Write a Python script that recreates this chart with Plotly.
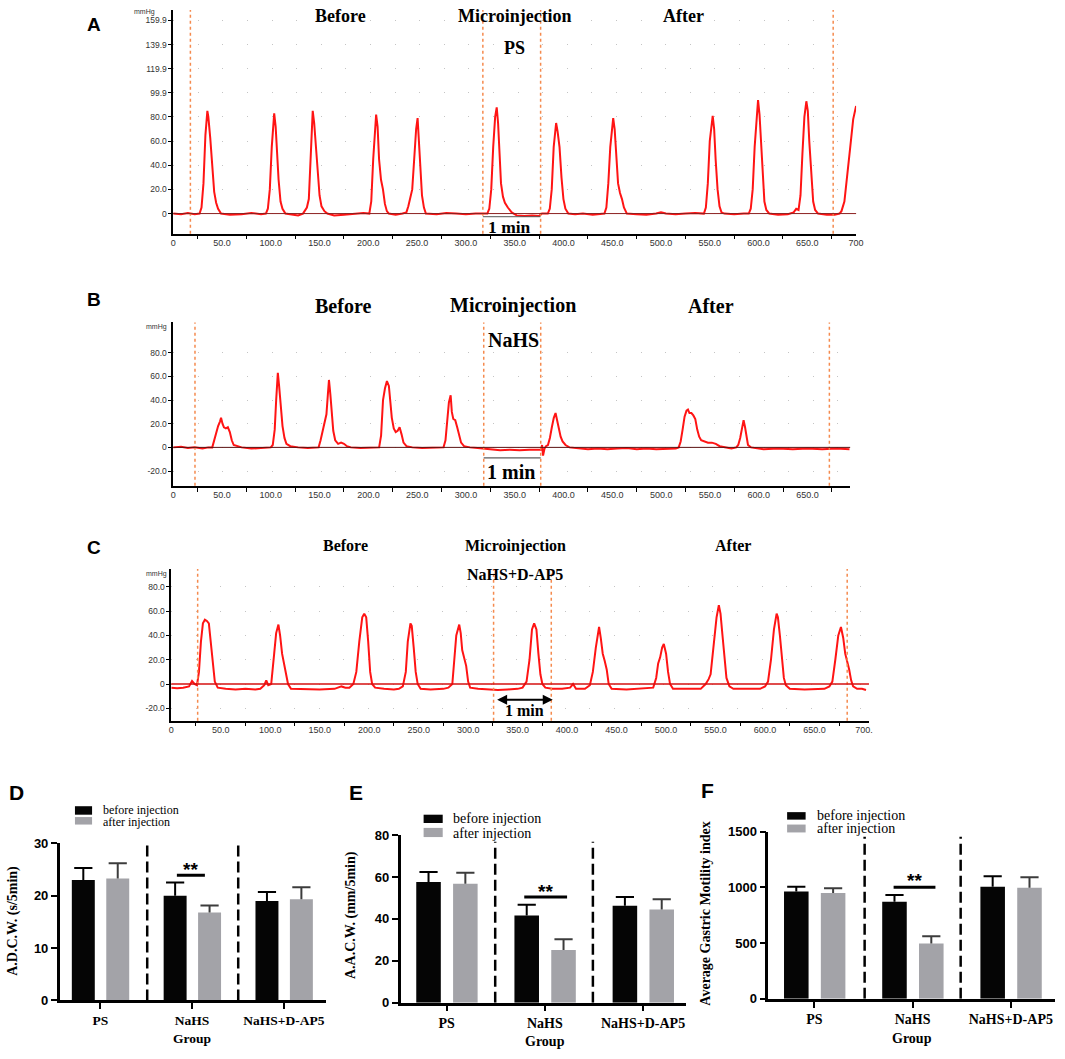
import plotly.graph_objects as go

W, H = 1065, 1059
def px(x): return x / W
def py(y): return 1 - y / H

SERIF = "Liberation Serif"
SANS = "Liberation Sans"

# ---------------- Data: manometry traces (time, mmHg) ----------------
a_trace = [(0,0),(8,-0.5),(15,0.5),(22,-0.5),
    (27,0),(29,5),(31,25),(33,65),(35,85),(36,80),(38,62),(40,40),(42,18),(44,9),(46,4),(49,0),
    (58,-1),(70,-0.5),(80,0.5),(90,-0.5),
    (95,0),(97,4),(99,20),(101,55),(103.5,83),(105,72),(106.5,50),(108,28),(110,10),(112,4),(115,0),
    (122,-1),(128,-1.5),(133,0),
    (135,3),(137,5),(139,12),(141,50),(143,85),(144.5,75),(146,60),(148,35),(150,15),(152,6),(155,2),(158,0),
    (165,-1.5),(175,-1),(185,0),(195,0.5),
    (201,0),(203,10),(205,45),(207,78),(208,82),(209.5,72),(211,45),(213,28),(215,20),(217,8),(219,2),(221,0),
    (228,-1),(235,0),
    (239,1),(241,6),(243,12),(245,20),(247,45),(249,70),(250.5,79),(252,60),(253.5,35),(255,15),(257,5),(259,0),
    (270,-0.5),(280,0.5),(290,0),(300,-0.5),(310,0),(318,0),
    (322,0),(324,4),(326,20),(328,55),(330,80),(331.6,88),(333,75),(334.5,50),(336,25),(338,14),(340,9),(343,5),(347,1),
    (352,-1.5),(360,-2),(368,-1.5),(375,-2),(378,0),
    (384,0),(386,4),(388,20),(390,55),(392.5,75),(394,68),(396,55),(398,30),(400,12),(402,4),(405,0),
    (412,-0.5),(420,0),(430,-1),(438,0),
    (442,0),(444,5),(446,25),(448,55),(451,79),(452.5,70),(454,48),(456,25),(458,17),(460,12),(462,5),(465,0),
    (475,-0.5),(485,-1),(495,0),(500,1),(505,0),(515,-0.5),(525,0),(535,0.5),
    (544,0),(546,5),(548,25),(550,60),(553,81),(554.5,70),(556,45),(558,20),(560,6),(562,1),(565,0),
    (575,-0.5),(585,0),
    (590,0),(592,4),(594,20),(596,55),(599.5,94),(601,82),(602.5,60),(604,30),(606,10),(608,3),(611,0),
    (620,-1),(630,-0.5),(636,1),(638.6,4),
    (641,3),(643,15),(645,50),(647,80),(649,93),(650.5,85),(652,60),(654,30),(656,10),(658,3),(661,0),
    (670,-1),(678,-1),(683,0),
    (685,2),(688,10),(691,30),(694,55),(697,78),(700,89)]

b_trace = [(0,0),(8,0.5),(15,-0.5),(22,0),(30,-1),(36,0),
    (40,0),(42,6),(44,13),(46,18),(48,22),(49,25),(50.5,20),(52,17),(54,16),(56,17),(58,13),(60,6),(62,2),(65,1),(70,0),
    (80,-1),(90,-0.5),(97,0),
    (100,0),(102,2),(104,15),(105.5,40),(107.2,63),(108.5,52),(110,35),(112,18),(114,8),(116,3),(120,1),
    (128,0),(138,-0.5),(146,0),
    (149,0),(151,6),(153,14),(155,20),(157,28),(158.5,45),(159.6,57),(161,45),(162.5,28),(164,14),(166,6),(169,3),(172,4),(175,3),(178,1),(182,0),
    (192,-0.5),(202,0),(209,0),
    (211,0),(213,10),(215,40),(217,50),(219,56),(221,52),(222.5,40),(224,25),(226,16),(228,13),(230,14),(232,17),(234,11),(236,4),(239,1),(245,0),
    (255,-0.5),(265,0),(274,0),
    (277,0),(279,6),(281,25),(282.5,38),(284.3,44),(285.5,30),(287,24),(289,23),(291,17),(293,9),(295,4),(298,1),(304,0),
    (312,-0.5),(318,-1),(325,-2),(335,-2.5),(345,-2),(355,-2.5),(365,-2),(375,-2.5),
    (377,-2),(378,2),(379,-7),(380.5,-1),(382,1),
    (384,2),(386,8),(388,17),(390,25),(391.8,29),(393,25),(395,17),(397,9),(399,5),(402,2),(406,0),
    (415,-1),(425,-1.5),(435,-1),(445,-1.5),(455,-1),(465,-0.5),(475,-1.5),(485,-1),(495,-1.5),(505,-1),(515,-1),
    (518,0),(520,5),(522,15),(524,26),(526,31),(527.5,32),(529,29),(531,29),(533,27),(535,24),(537,15),(539,9),(541,6),(544,5),(548,4),(552,4),(556,3),(560,1),(565,0),
    (572,-1),
    (577,0),(579,2),(581,8),(583,17),(584.5,23),(586,17),(587.5,7),(589,2),(592,0),
    (605,-1.5),(620,-1),(635,-1.5),(650,-1),(665,-1.5),(680,-1),(693,-1.5)]

c_trace = [(0,-3),(6,-3.5),(12,-3),(18,-2),(21,2.5),(23.5,0),(26,-1),
    (28,10),(30,35),(32,50),(34,53),(36,52),(38,50),(40,35),(42,15),(44,2),(47,-3),(55,-4),(65,-4.5),(75,-4),(85,-4.5),
    (90,-4),(94,-1),(96,3),(98,-1),(101,0),(104,25),(106,42),(108.3,49),(110,40),(112,25),(114,16),(116,8),(118,0),(121,-4),
    (135,-4.5),(150,-4.5),(165,-4),(172,-2),(176,-3),
    (180,-3),(184,0),(187,10),(190,35),(193,55),(195,58),(197,55),(199,35),(201,10),(203,0),(206,-3),(215,-4),(225,-4.5),
    (230,-4),(234,-2),(237,10),(239,35),(241.7,50),(243,48),(245,30),(247,10),(249,0),(252,-4),(262,-4.5),(270,-4),
    (275,-4),(280,-3),(284,0),(286,20),(288,40),(291,49),(292.5,42),(294,28),(296,20),(298,15),(300,2),(302,-3),
    (310,-4),(320,-4.5),(330,-5),(340,-4.5),
    (350,-4),(355,-3),(359,2),(362,20),(364.5,45),(366.7,50),(369,45),(371,25),(373,8),(375,0),(378,-3),(385,-4),(395,-4),
    (403,-3),(406,0),(409,-4),(418,-4),(423,-1),(426,10),(429,30),(432.3,47),(434,38),(436,25),(438,19),(440,12),(442,0),(445,-4),
    (460,-4.5),(475,-4),
    (487,-3),(490,5),(492,17),(494,22),(496,30),(497.7,33),(500,25),(502,10),(504,0),(507,-4),(520,-4),(530,-4.5),
    (535,-4),(540,0),(543,4),(545,8),(548,30),(551,55),(553.3,65),(555,58),(557,40),(559,20),(561,5),(564,-2),(568,-4),(585,-4),
    (595,-4),(600,-2),(603,2),(606,20),(609,45),(611.7,58),(613,55),(615,40),(617,20),(619,5),(621,-1),(625,-4),(640,-4.5),(650,-4.5),
    (660,-4),(665,-2),(668,2),(671,20),(674,40),(676.7,47),(679,38),(681,25),(683,19),(685,12),(687,3),(689,-2),(693,-4),(698,-4),(702,-5)]

# event marks (s): start / injection start / injection end / end
a_marks = [17.6, 317.4, 376.6, 676.5]
b_marks = [22.3, 318.2, 376.6, 672.4]
c_marks = [26.7, 325.7, 384.0, 683.0]

x_tickvals = [0, 50, 100, 150, 200, 250, 300, 350, 400, 450, 500, 550, 600, 650, 700]
x_ticktext_a = ["0", "50.0", "100.0", "150.0", "200.0", "250.0", "300.0", "350.0", "400.0",
                "450.0", "500.0", "550.0", "600.0", "650.0", "700"]
x_ticktext_bc = ["0", "50.0", "100.0", "150.0", "200.0", "250.0", "300.0", "350.0", "400.0",
                 "450.0", "500.0", "550.0", "600.0", "650.0", "700."]
x_minor = [25, 75, 125, 175, 225, 275, 325, 375, 425, 475, 525, 575, 625, 675]
a_ytickvals = [0, 20, 40, 60, 80, 99.9, 119.9, 139.9, 159.9]
a_yticktext = ["0", "20.0", "40.0", "60.0", "80.0", "99.9", "119.9", "139.9", "159.9"]
bc_ytickvals = [-20, 0, 20, 40, 60, 80]
bc_yticktext = ["-20.0", "0", "20.0", "40.0", "60.0", "80.0"]

# ---------------- Data: bar charts ----------------
groups = ["PS", "NaHS", "NaHS+D-AP5"]
adcw_before = [23.0, 20.0, 19.0]
adcw_before_sem = [2.3, 2.5, 1.7]
adcw_after = [23.3, 16.8, 19.3]
adcw_after_sem = [2.9, 1.3, 2.3]
aacw_before = [57.6, 41.6, 46.3]
aacw_before_sem = [4.8, 5.1, 4.2]
aacw_after = [56.8, 25.1, 44.5]
aacw_after_sem = [5.2, 5.2, 4.9]
gmi_before = [963, 871, 1007]
gmi_before_sem = [44, 62, 94]
gmi_after = [950, 496, 998]
gmi_after_sem = [42, 65, 94]

fig = go.Figure()

RED = "#ff1414"
ORANGE = "#f58a4e"

# ---- manometry traces ----
for tr, ax in [(a_trace, ""), (b_trace, "2"), (c_trace, "3")]:
    t, p = zip(*tr)
    fig.add_trace(go.Scatter(x=list(t), y=list(p), mode="lines",
                             line=dict(color=RED, width=2),
                             xaxis="x" + ax, yaxis="y" + ax, showlegend=False,
                             hoverinfo="skip"))

# ---- bars ----
BW = 0.25
OFF_B, OFF_A = -0.31, 0.065
BLACK, GRAY = "#050505", "#a3a3a8"
bar_sets = [
    ("4", adcw_before, adcw_before_sem, adcw_after, adcw_after_sem),
    ("5", aacw_before, aacw_before_sem, aacw_after, aacw_after_sem),
    ("6", gmi_before, gmi_before_sem, gmi_after, gmi_after_sem),
]
for ax, vb, eb, va, ea in bar_sets:
    for vals, errs, col, off, ecol, name in [(vb, eb, BLACK, OFF_B, "#000000", "before injection"),
                                              (va, ea, GRAY, OFF_A, "#3c3c3c", "after injection")]:
        fig.add_trace(go.Bar(x=[0, 1, 2], y=vals, width=BW, offset=off,
                             marker=dict(color=col, line=dict(width=0)),
                             xaxis="x" + ax, yaxis="y" + ax, name=name, showlegend=False))
        centers = [i + off + BW / 2 for i in range(3)]
        ex, ey = [], []
        for c, v, e in zip(centers, vals, errs):
            ex += [c, c, None]
            ey += [v, v + e, None]
        fig.add_trace(go.Scatter(x=ex, y=ey, mode="lines", line=dict(color=ecol, width=2),
                                 xaxis="x" + ax, yaxis="y" + ax, showlegend=False, hoverinfo="skip"))
        fig.add_trace(go.Scatter(x=centers, y=[v + e for v, e in zip(vals, errs)], mode="markers",
                                 marker=dict(symbol="line-ew", size=13, line=dict(width=2, color=ecol)),
                                 xaxis="x" + ax, yaxis="y" + ax, showlegend=False, hoverinfo="skip"))

# ---------------- axes ----------------
def trace_x(dom, rng, anchor, ticktext):
    return dict(domain=dom, range=rng, anchor=anchor, showline=True, linecolor="black", linewidth=1.5,
                tickvals=x_tickvals, ticktext=ticktext, ticks="", showgrid=False, zeroline=False,
                tickfont=dict(family=SANS, size=9, color="#333333"),
                minor=dict(tickvals=x_minor, ticks="outside", ticklen=4, tickcolor="black",
                           tickwidth=1, showgrid=False))

def trace_y(dom, rng, anchor, tv, tt):
    return dict(domain=dom, range=rng, anchor=anchor, showline=True, linecolor="black", linewidth=1.5,
                tickvals=tv, ticktext=tt, ticks="outside", ticklen=3, tickcolor="black",
                tickfont=dict(family=SANS, size=8.5, color="#333333"),
                showgrid=True, gridcolor="#c4c4c4", griddash="1px,23.6px", gridwidth=1, zeroline=False)

def bar_x(dom, rng, anchor, fs):
    return dict(domain=dom, range=rng, anchor=anchor, showline=True, linecolor="black", linewidth=2.5,
                tickvals=[0, 1, 2], ticktext=groups, ticks="outside", ticklen=6, tickwidth=2,
                tickcolor="black", showgrid=False, zeroline=False,
                tickfont=dict(family=SERIF, size=fs, color="black", weight="bold"))

def bar_y(dom, rng, anchor, tv):
    return dict(domain=dom, range=rng, anchor=anchor, showline=True, linecolor="black", linewidth=2.5,
                tickvals=tv, ticks="outside", ticklen=6, tickwidth=2, tickcolor="black",
                showgrid=False, zeroline=False,
                tickfont=dict(family=SANS, size=13, color="black", weight="bold"))

layout = dict(
    width=W, height=H, margin=dict(l=0, r=0, t=0, b=0),
    paper_bgcolor="white", plot_bgcolor="white", barmode="overlay", showlegend=False,
    xaxis=trace_x([px(172), px(862)], [0, 700], "y", x_ticktext_a),
    yaxis=trace_y([py(230), py(3)], [-16.7, 168.6], "x", a_ytickvals, a_yticktext),
    xaxis2=trace_x([px(172), px(856)], [0, 693.7], "y2", x_ticktext_bc),
    yaxis2=trace_y([py(485.7), py(320)], [-32.5, 105.6], "x2", bc_ytickvals, bc_yticktext),
    xaxis3=trace_x([px(170), px(875)], [0, 705], "y3", x_ticktext_bc),
    yaxis3=trace_y([py(724), py(570)], [-30.3, 94.9], "x3", bc_ytickvals, bc_yticktext),
    xaxis4=bar_x([px(57.3), px(326)], [-0.442, 2.454], "y4", 13.5),
    yaxis4=bar_y([py(1007.7), py(848.3)], [0, 30], "x4", [0, 10, 20, 30]),
    xaxis5=bar_x([px(401.7), px(690)], [-0.47, 2.436], "y5", 14),
    yaxis5=bar_y([py(1010), py(840)], [0, 80], "x5", [0, 20, 40, 60, 80]),
    xaxis6=bar_x([px(773.3), px(1063)], [-0.47, 2.45], "y6", 14),
    yaxis6=bar_y([py(1006), py(836.7)], [0, 1500], "x6", [0, 500, 1000, 1500]),
)
fig.update_layout(**layout)

shapes = []
annots = []

# ---- trace panel decorations ----
for ax, marks, zcol, zw in [("", a_marks, "#8b1f1f", 1), ("2", b_marks, "#5a1010", 1), ("3", c_marks, "#d41010", 1.5)]:
    for m in marks:
        shapes.append(dict(type="line", xref="x" + ax, yref=("y" + ax) + " domain", x0=m, x1=m, y0=0, y1=1,
                           line=dict(color=ORANGE, width=1.5, dash="3px,3px"), layer="above"))
    shapes.append(dict(type="line", xref=("x" + ax) + " domain", yref="y" + ax, x0=0, x1=1, y0=0, y1=0,
                       line=dict(color=zcol, width=zw), layer="above"))

# 1 min scale bars
shapes.append(dict(type="line", xref="x", yref="y", x0=a_marks[1], x1=a_marks[2], y0=-2.6, y1=-2.6,
                   line=dict(color="#555555", width=1)))
shapes.append(dict(type="line", xref="x2", yref="y2", x0=b_marks[1], x1=b_marks[2], y0=-8.9, y1=-8.9,
                   line=dict(color="#333333", width=1)))
annots.append(dict(xref="x3", yref="y3", axref="x3", ayref="y3", x=385.5, y=-13, ax=327.8, ay=-13,
                   text="", showarrow=True, arrowhead=2, arrowside="end+start", arrowwidth=2,
                   arrowsize=1, arrowcolor="black"))

def ann(x, y, text, size, family=SERIF, weight="bold", xanchor="center", angle=0, xref="paper", yref="paper", color="black"):
    d = dict(x=x, y=y, xref=xref, yref=yref, text=text, showarrow=False, xanchor=xanchor, yanchor="middle",
             font=dict(family=family, size=size, color=color, weight=weight))
    if angle:
        d["textangle"] = angle
    annots.append(d)

ann(344.5, -10.8, "1 min", 17.5, xref="x", yref="y")
ann(345.8, -21, "1 min", 20, xref="x2", yref="y2")
ann(356.6, -21.6, "1 min", 16, xref="x3", yref="y3")

# panel titles
for x, y, t, s in [(340.7, 9, "Before", 18), (517.5, 9, "Microinjection", 18), (517.3, 41.7, "PS", 18), (687.7, 9.3, "After", 18),
                   (344, 303, "Before", 20), (515.4, 303, "Microinjection", 20), (516, 338, "NaHS", 20), (715, 303, "After", 20),
                   (345.7, 546.7, "Before", 16), (517.7, 546.7, "Microinjection", 16), (517.5, 575.7, "NaHS+D-AP5", 16), (738, 546.7, "After", 16)]:
    ann(px(x), py(y), t, s)

for x, y in [(143, 5), (155.6, 325), (155, 575)]:
    ann(px(x), py(y), "mmHg", 7, family=SANS, weight="normal", color="#333333")

for x, y, t, s in [(92, 18, "A", 19), (92, 297, "B", 19), (92, 548, "C", 19),
                   (13.3, 796.7, "D", 21), (356.7, 796.7, "E", 21), (711.7, 795, "F", 21)]:
    ann(px(x), py(y), t, s, family=SANS)

# ---- bar chart decorations ----
for ax, xs, ytop, sig, sigy, star, stary in [
        ("4", [0.511, 1.502], 30.6, (0.834, 1.139), 23.9, 0.985, 24.9),
        ("5", [0.494, 1.489], 76.8, (0.79, 1.226), 50.5, 1.008, 53.3),
        ("6", [0.511, 1.489], 1455, (0.806, 1.232), 1003, 1.018, 1065)]:
    for xv in xs:
        shapes.append(dict(type="line", xref="x" + ax, yref="y" + ax, x0=xv, x1=xv, y0=0, y1=ytop,
                           line=dict(color="black", width=2.5, dash="11px,5px")))
    shapes.append(dict(type="line", xref="x" + ax, yref="y" + ax, x0=sig[0], x1=sig[1], y0=sigy, y1=sigy,
                       line=dict(color="black", width=3)))
    ann(star, stary, "**", 19, family=SANS, xref="x" + ax, yref="y" + ax)

# legends (drawn)
for lx, ly_b, ly_a, tx, ty_b, ty_a, fs in [
        ((72.7, 90), (810.7, 819.3), (821.7, 829.3), 99.3, 814.3, 826.3, 12),
        ((425, 444.3), (819.3, 827.7), (832.7, 842), 452.7, 823.3, 838.3, 14),
        ((792.3, 811), (816.7, 824.3), (829.3, 837.3), 820, 820.5, 833.3, 14)]:
    shapes.append(dict(type="rect", xref="paper", yref="paper", x0=px(lx[0]), x1=px(lx[1]),
                       y0=py(ly_b[1]), y1=py(ly_b[0]), fillcolor=BLACK, line=dict(width=0)))
    shapes.append(dict(type="rect", xref="paper", yref="paper", x0=px(lx[0]), x1=px(lx[1]),
                       y0=py(ly_a[1]), y1=py(ly_a[0]), fillcolor=GRAY, line=dict(width=0)))
    ann(px(tx), py(ty_b), "before injection", fs, weight="normal", xanchor="left")
    ann(px(tx), py(ty_a), "after injection", fs, weight="normal", xanchor="left")

# axis titles
ann(px(9.3), py(926.7), "A.D.C.W. (s/5min)", 14, angle=-90)
ann(px(351.7), py(921), "A.A.C.W. (mm/5min)", 14, angle=-90)
ann(px(710), py(920), "Average Gastric Motility index", 14, angle=-90)
ann(px(191), py(1046), "Group", 13.5)
ann(px(547.7), py(1049), "Group", 14)
ann(px(918.3), py(1046.7), "Group", 14)

fig.update_layout(shapes=shapes, annotations=annots)
fig.write_html("out.html", config={"displayModeBar": False},
               post_script="document.body.style.margin='0px';document.body.style.overflow='hidden';")
